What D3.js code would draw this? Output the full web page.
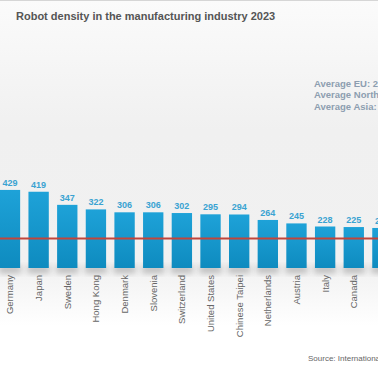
<!DOCTYPE html>
<html>
<head>
<meta charset="utf-8">
<script src="https://cdn.jsdelivr.net/npm/d3@7"></script>
<style>
  html, body { margin: 0; padding: 0; background: #fff; }
  svg { display: block; font-family: "Liberation Sans", Arial, sans-serif; }
</style>
</head>
<body>
<div class="chart"></div>
<script>
// DATA ------------------------------------
const countries = ["Germany", "Japan", "Sweden", "Hong Kong", "Denmark", "Slovenia",
  "Switzerland", "United States", "Chinese Taipei", "Netherlands", "Austria",
  "Italy", "Canada", "Belgium and Luxembourg"];
const density = [429, 419, 347, 322, 306, 306, 302, 295, 294, 264, 245, 228, 225, 220];
const worldAverage = 162;
const averages = ["Average EU: 219", "Average North America: 197", "Average Asia: 182"];

// CHART INIT ------------------------------
const width = 378, height = 370;

const svg = d3.select(".chart").append("svg")
    .attr("width", width)
    .attr("height", height);

const defs = svg.append("defs");

const bg = defs.append("linearGradient")
    .attr("id", "bg").attr("x1", 0).attr("y1", 0).attr("x2", 0).attr("y2", 1);
bg.append("stop").attr("offset", "0%").attr("stop-color", "#fbfbfb");
bg.append("stop").attr("offset", "35%").attr("stop-color", "#f0f0f0");
bg.append("stop").attr("offset", "72%").attr("stop-color", "#f1f1f1");
bg.append("stop").attr("offset", "88%").attr("stop-color", "#ffffff");
bg.append("stop").attr("offset", "100%").attr("stop-color", "#ffffff");

const barGrad = defs.append("linearGradient")
    .attr("id", "bar").attr("x1", 0).attr("y1", 0).attr("x2", 0).attr("y2", 1);
barGrad.append("stop").attr("offset", "0%").attr("stop-color", "#1ea2d8");
barGrad.append("stop").attr("offset", "100%").attr("stop-color", "#0e8bbf");

defs.append("filter").attr("id", "blur")
    .attr("x", "-20%").attr("y", "-50%").attr("width", "140%").attr("height", "200%")
  .append("feGaussianBlur").attr("stdDeviation", 3);

svg.append("rect")
    .attr("width", width).attr("height", height)
    .attr("fill", "url(#bg)");
svg.append("line")
    .attr("x1", 0).attr("x2", width).attr("y1", 0.5).attr("y2", 0.5)
    .attr("stroke", "#d6d6d6");

// SCALES ----------------------------------
const xScale = d3.scaleBand()
    .domain(countries)
    .range([-4.35, -4.35 + countries.length * 28.65])
    .paddingInner(0.29)
    .paddingOuter(0.145);

const yScale = d3.scaleLinear()
    .domain([0, 500])
    .range([268, 268 - 500 * 0.182]);

const data = countries.map((c, i) => ({country: c, value: density[i]}));

// TITLE -----------------------------------
svg.append("text")
    .attr("x", 16).attr("y", 19.5)
    .attr("font-size", 11).attr("font-weight", "bold")
    .attr("fill", "#555")
    .text("Robot density in the manufacturing industry 2023");

svg.selectAll(".avg")
    .data(averages)
  .enter().append("text")
    .attr("class", "avg")
    .attr("x", 314)
    .attr("y", (d, i) => 87 + i * 11.3)
    .attr("font-size", 9.5).attr("font-weight", "bold")
    .attr("fill", "#8d9eb0")
    .text(d => d);

// BARS ------------------------------------
svg.selectAll(".shadow")
    .data(data)
  .enter().append("rect")
    .attr("class", "shadow")
    .attr("x", d => xScale(d.country) - 1)
    .attr("y", yScale(0) - 2)
    .attr("width", xScale.bandwidth() + 2)
    .attr("height", 7)
    .attr("fill", "#b8b8b8")
    .attr("filter", "url(#blur)");

svg.selectAll(".bar")
    .data(data)
  .enter().append("rect")
    .attr("class", "bar")
    .attr("x", d => xScale(d.country))
    .attr("y", d => yScale(d.value))
    .attr("width", xScale.bandwidth())
    .attr("height", d => yScale(0) - yScale(d.value))
    .attr("fill", "url(#bar)");

svg.selectAll(".value")
    .data(data)
  .enter().append("text")
    .attr("class", "value")
    .attr("x", d => xScale(d.country) + xScale.bandwidth() / 2)
    .attr("y", d => yScale(d.value) - 4)
    .attr("text-anchor", "middle")
    .attr("font-size", 9).attr("font-weight", "bold")
    .attr("fill", "#3aa3d2")
    .text(d => d.value);

// world average line
svg.append("line")
    .attr("x1", 0).attr("x2", width)
    .attr("y1", yScale(worldAverage)).attr("y2", yScale(worldAverage))
    .attr("stroke", "#c2453a")
    .attr("stroke-width", 2);

svg.selectAll(".country")
    .data(data)
  .enter().append("text")
    .attr("class", "country")
    .attr("transform", d => "translate(" + (xScale(d.country) + xScale.bandwidth() / 2 + 3.5) + ",275) rotate(-90)")
    .attr("text-anchor", "end")
    .attr("font-size", 9.5)
    .attr("fill", "#666")
    .text(d => d.country);

svg.append("text")
    .attr("x", 308).attr("y", 361)
    .attr("font-size", 8)
    .attr("fill", "#666")
    .text("Source: International Federation of Robotics");
</script>
</body>
</html>
